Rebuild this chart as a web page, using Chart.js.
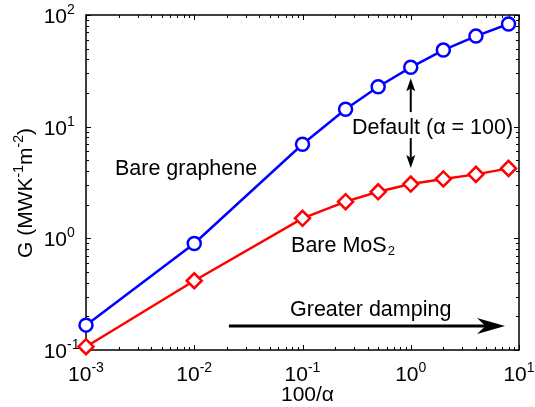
<!DOCTYPE html>
<html><head><meta charset="utf-8">
<script src="https://cdn.jsdelivr.net/npm/chart.js@4"></script>
<style>html,body{margin:0;padding:0;background:#fff}</style>
</head><body>
<canvas id="c" width="535" height="407"></canvas>
<script>
// ---- data ----
const xValues   = [0.001, 0.01, 0.1, 0.25, 0.5, 1, 2, 4, 8];      // 100/alpha
const grapheneG = [0.167, 0.90, 6.95, 14.3, 22.8, 34, 48.5, 64.7, 83];
const mos2G     = [0.107, 0.417, 1.51, 2.13, 2.61, 3.06, 3.40, 3.74, 4.23];
const xTickExponents = [-3, -2, -1, 0, 1];
const yTickExponents = [-1, 0, 1, 2];
const seriesNames = ['Bare graphene', 'Bare MoS2'];

const FONT = '"Liberation Sans", Arial, sans-serif';

function drawPow(ctx, exp, x, y, align) {
  const base = '10', sup = String(exp);
  ctx.font = '21px ' + FONT;
  const wb = ctx.measureText(base).width;
  ctx.font = '14px ' + FONT;
  const ws = ctx.measureText(sup).width;
  let bx;
  if (align === 'center') bx = x - (wb + ws) / 2;
  else if (align === 'baseRight') bx = x - wb;
  else bx = x;
  ctx.textAlign = 'left';
  ctx.textBaseline = 'alphabetic';
  ctx.font = '21px ' + FONT;
  ctx.fillText(base, bx, y);
  ctx.font = '14px ' + FONT;
  ctx.fillText(sup, bx + wb, y - 9);
}

function arrow(ctx, x1, y1, x2, y2, lw, headLen, headHalf, notch) {
  const ang = Math.atan2(y2 - y1, x2 - x1);
  const bx = x2 - headLen * Math.cos(ang), by = y2 - headLen * Math.sin(ang);
  const mx = bx + (x2 - bx) * notch, my = by + (y2 - by) * notch;
  ctx.lineWidth = lw;
  ctx.beginPath(); ctx.moveTo(x1, y1); ctx.lineTo(mx, my); ctx.stroke();
  const nx = -Math.sin(ang), ny = Math.cos(ang);
  ctx.beginPath();
  ctx.moveTo(x2, y2);
  ctx.lineTo(bx + nx * headHalf, by + ny * headHalf);
  ctx.lineTo(mx, my);
  ctx.lineTo(bx - nx * headHalf, by - ny * headHalf);
  ctx.closePath(); ctx.fill();
}

const framePlugin = {
  id: 'frame',
  beforeDatasetsDraw(chart) {
    const {ctx, chartArea: a, scales: {x, y}} = chart;
    ctx.save();
    ctx.strokeStyle = '#000'; ctx.fillStyle = '#000';
    ctx.lineWidth = 1.5;
    ctx.strokeRect(a.left, a.top, a.right - a.left, a.bottom - a.top);
    ctx.lineWidth = 1;
    const xMaxE = xTickExponents[xTickExponents.length - 1];
    for (let e = xTickExponents[0]; e <= xMaxE; e++) {
      for (let k = 1; k <= 9; k++) {
        const v = k * Math.pow(10, e);
        if (v > Math.pow(10, xMaxE) * 1.0001) continue;
        const px = Math.round(x.getPixelForValue(v)) + 0.5;
        const len = k === 1 ? 5 : 3;
        ctx.beginPath();
        ctx.moveTo(px, a.bottom); ctx.lineTo(px, a.bottom - len);
        ctx.moveTo(px, a.top); ctx.lineTo(px, a.top + len);
        ctx.stroke();
      }
    }
    const yMaxE = yTickExponents[yTickExponents.length - 1];
    for (let e = yTickExponents[0]; e <= yMaxE; e++) {
      for (let k = 1; k <= 9; k++) {
        const v = k * Math.pow(10, e);
        if (v > Math.pow(10, yMaxE) * 1.0001) continue;
        const py = Math.round(y.getPixelForValue(v)) + 0.5;
        const len = k === 1 ? 5 : 3;
        ctx.beginPath();
        ctx.moveTo(a.left, py); ctx.lineTo(a.left + len, py);
        ctx.moveTo(a.right, py); ctx.lineTo(a.right - len, py);
        ctx.stroke();
      }
    }
    ctx.restore();
  },
  afterDraw(chart) {
    const {ctx, chartArea: a, scales: {x, y}} = chart;
    ctx.save();
    ctx.fillStyle = '#000'; ctx.strokeStyle = '#000';
    // tick labels
    xTickExponents.forEach(e => drawPow(ctx, e, x.getPixelForValue(Math.pow(10, e)), a.bottom + 31, 'center'));
    yTickExponents.forEach(e => drawPow(ctx, e, a.left - 19, y.getPixelForValue(Math.pow(10, e)) + 8, 'baseRight'));
    // axis titles
    ctx.font = '21px ' + FONT; ctx.textAlign = 'center'; ctx.textBaseline = 'alphabetic';
    ctx.fillText('100/\u03b1', (a.left + a.right) / 2 + 5, a.bottom + 51);
    ctx.save();
    ctx.translate(32, 193);
    ctx.rotate(-Math.PI / 2);
    const parts = [['G (MWK', 0], ['-1', 1], ['m', 0], ['-2', 1], [')', 0]];
    let total = 0;
    parts.forEach(p => { ctx.font = (p[1] ? '14px ' : '21px ') + FONT; total += ctx.measureText(p[0]).width; });
    let cx = -total / 2;
    ctx.textAlign = 'left';
    parts.forEach(p => {
      ctx.font = (p[1] ? '14px ' : '21px ') + FONT;
      ctx.fillText(p[0], cx, p[1] ? -9 : 0);
      cx += ctx.measureText(p[0]).width;
    });
    ctx.restore();
    // annotations (positioned in data space)
    const AF = '21.5px ' + FONT;
    ctx.font = AF; ctx.textAlign = 'left';
    ctx.fillText(seriesNames[0], x.getPixelForValue(0.00185), y.getPixelForValue(3.69));
    const mx = x.getPixelForValue(0.0784), my = y.getPixelForValue(0.754);
    ctx.fillText('Bare MoS', mx, my);
    const wm = ctx.measureText('Bare MoS').width;
    ctx.font = '13px ' + FONT;
    ctx.fillText('2', mx + wm + 1, my + 3);
    ctx.font = AF;
    ctx.fillText('Default (\u03b1 = 100)', x.getPixelForValue(0.286), y.getPixelForValue(8.59));
    ctx.fillText('Greater damping', x.getPixelForValue(0.0767), y.getPixelForValue(0.2015));
    // arrows
    const ax = x.getPixelForValue(1);
    arrow(ctx, ax, y.getPixelForValue(13.5), ax, y.getPixelForValue(27.2), 2, 13, 4.5, 0.2);
    arrow(ctx, ax, y.getPixelForValue(7.9), ax, y.getPixelForValue(4.26), 2, 13, 4.5, 0.2);
    arrow(ctx, x.getPixelForValue(0.0209), y.getPixelForValue(0.164), x.getPixelForValue(7.43), y.getPixelForValue(0.164), 3, 28, 8, 0.3);
    ctx.restore();
  }
};

new Chart(document.getElementById('c'), {
  type: 'line',
  data: {
    datasets: [
      {
        label: seriesNames[1],
        data: xValues.map((v, i) => ({x: v, y: mos2G[i]})),
        borderColor: '#ff0000', backgroundColor: '#ffffff',
        borderWidth: 2.5, pointStyle: 'rectRot', pointRadius: 7.5,
        pointBorderWidth: 2.5, pointBorderColor: '#ff0000', pointBackgroundColor: '#ffffff',
        clip: false, tension: 0
      },
      {
        label: seriesNames[0],
        data: xValues.map((v, i) => ({x: v, y: grapheneG[i]})),
        borderColor: '#0000ff', backgroundColor: '#ffffff',
        borderWidth: 2.5, pointStyle: 'circle', pointRadius: 6.5,
        pointBorderWidth: 2.5, pointBorderColor: '#0000ff', pointBackgroundColor: '#ffffff',
        clip: false, tension: 0
      }
    ]
  },
  options: {
    responsive: false, animation: false, devicePixelRatio: 1,
    layout: {padding: {left: 86, top: 15, right: 16, bottom: 57}},
    plugins: {legend: {display: false}, tooltip: {enabled: false}},
    scales: {
      x: {type: 'logarithmic', min: 0.001, max: 10, display: false},
      y: {type: 'logarithmic', min: 0.1, max: 100, display: false}
    }
  },
  plugins: [framePlugin]
});
</script>
</body></html>
